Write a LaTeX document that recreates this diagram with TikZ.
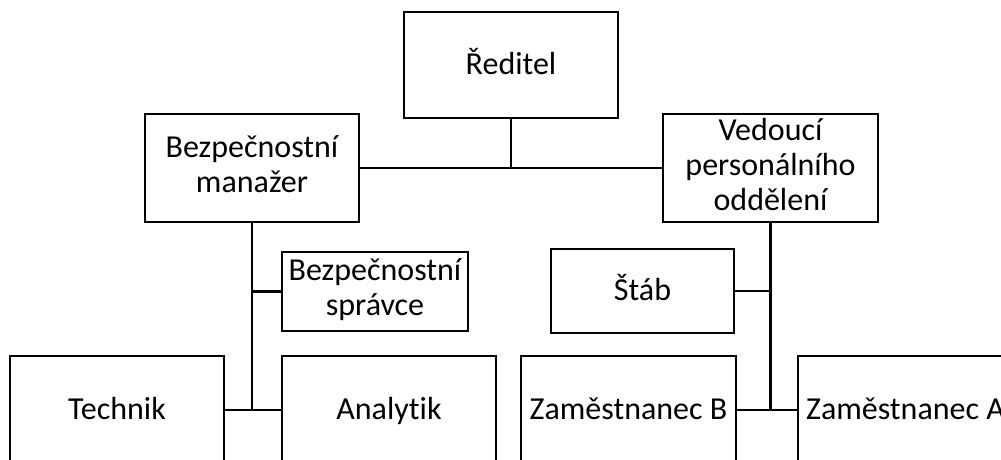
\documentclass[tikz,border=0pt]{standalone}
\usepackage{fontspec}
\setmainfont{Carlito}[RawFeature=-liga]
% line strut: ascent above and descent below the baseline of each text line
\newcommand{\ls}{\rule[-8pt]{0pt}{35pt}}
\begin{document}
\begin{tikzpicture}[x=1pt,y=-1pt,
  role/.style={draw=black, line width=2.5pt, fill=white, align=center,
    inner sep=0pt, font=\fontsize{32}{35}\selectfont,
    execute at begin node=\ls},
  link/.style={draw=black, line width=2.5pt}]
  \useasboundingbox (0,0) rectangle (1001,459);
  \clip (0,0) rectangle (1001,459);
  % top level
  \node[role, minimum width=214, minimum height=106] (red) at (511,65) {Ředitel};
  % second level
  \node[role, minimum width=214, minimum height=108] (bm) at (252,168) {Bezpečnostní\\\ls manažer};
  \node[role, minimum width=215, minimum height=108] (ved) at (770.5,168) {Vedoucí\\\ls personálního\\\ls oddělení};
  % staff positions
  \node[role, minimum width=186, minimum height=79] (bs) at (375,291.5) {Bezpečnostní\\\ls správce};
  \node[role, minimum width=183, minimum height=84] (stab) at (642.5,291) {Štáb};
  % bottom level
  \node[role, minimum width=214, minimum height=108] (tech) at (117,410) {Technik};
  \node[role, minimum width=214, minimum height=108] (anal) at (389,410) {Analytik};
  \node[role, minimum width=215, minimum height=108] (zb) at (628.5,410) {Zaměstnanec B};
  \node[role, minimum width=215, minimum height=108] (za) at (905.5,410) {Zaměstnanec A};
  % connectors
  \draw[link] (bm.east) -- (ved.west);
  \draw[link] (red.south) -- (red.south |- bm.east);
  \draw[link] (bm.south) -- (bm.south |- tech.east);
  \draw[link] (bs.west) -- (bs.west -| bm.south);
  \draw[link] (tech.east) -- (anal.west);
  \draw[link] (ved.south) -- (ved.south |- zb.east);
  \draw[link] (stab.east) -- (stab.east -| ved.south);
  \draw[link] (zb.east) -- (za.west);
\end{tikzpicture}
\end{document}
